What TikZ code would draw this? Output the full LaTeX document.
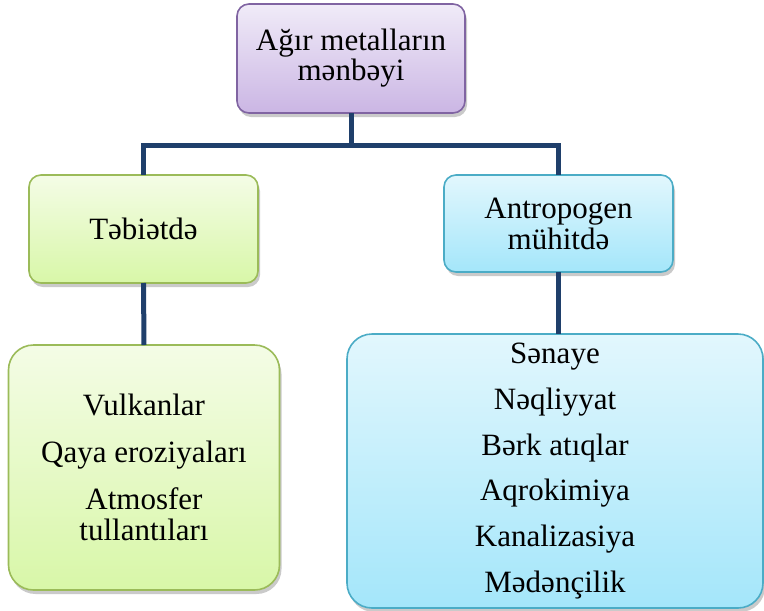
\documentclass[tikz,border=0pt]{standalone}
\usepackage{fontspec}
\setmainfont{Liberation Serif}
\usetikzlibrary{shadows,calc}
\definecolor{conn}{HTML}{1F3F6B}
\definecolor{pborder}{HTML}{8064A2}
\definecolor{ptop}{HTML}{F0EBF8}
\definecolor{pbot}{HTML}{CBB6E4}
\definecolor{gborder}{HTML}{9BBB59}
\definecolor{gtop}{HTML}{F4FCE6}
\definecolor{gbot}{HTML}{D8F7A8}
\definecolor{bborder}{HTML}{4BACC6}
\definecolor{btop}{HTML}{E2F7FD}
\definecolor{bbot}{HTML}{A4E6FA}
\tikzset{
  box/.style={draw, line width=1.6pt, rounded corners=12pt, align=center,
    inner sep=0pt, outer sep=0pt,
    drop shadow={opacity=0.35, shadow xshift=2pt, shadow yshift=-4pt, fill=black!60}},
  purplebox/.style={box, draw=pborder, top color=ptop, bottom color=pbot},
  greenbox/.style={box, draw=gborder, top color=gtop, bottom color=gbot},
  bluebox/.style={box, draw=bborder, top color=btop, bottom color=bbot},
  bigbox/.style={rounded corners=25pt},
  link/.style={draw=conn, line width=5pt}
}
\begin{document}
\begin{tikzpicture}[x=1pt,y=-1pt]
\useasboundingbox (0,0) rectangle (764,611);
\node[purplebox, minimum width=228pt, minimum height=109pt,
  font=\fontsize{31}{30}\selectfont] (top) at (351,58.5) {Ağır metalların\\mənbəyi};
\node[greenbox, minimum width=229pt, minimum height=108pt,
  font=\fontsize{31}{31}\selectfont] (lmid) at (143.5,229) {Təbiətdə};
\node[bluebox, minimum width=229pt, minimum height=97pt,
  font=\fontsize{31}{31}\selectfont] (rmid) at (558.5,223.5) {Antropogen\\mühitdə};
\node[greenbox, bigbox, minimum width=271pt, minimum height=245pt,
  font=\fontsize{31}{31}\selectfont] (lbot) at (144,467.5)
  {Vulkanlar\\[16pt]Qaya eroziyaları\\[16pt]Atmosfer\\tullantıları};
\node[bluebox, bigbox, minimum width=416pt, minimum height=274pt,
  font=\fontsize{31}{45.8}\selectfont] (rbot) at (555,471)
  {Sənaye\\Nəqliyyat\\Bərk atıqlar\\Aqrokimiya\\Kanalizasiya\\Mədənçilik};
\coordinate (hub) at ($(top.south)+(0,32)$);
\draw[link] (top.south) -- (hub) -| (lmid.north);
\draw[link] (hub) -| (rmid.north);
\draw[link] (lmid.south) -- (lbot.north);
\draw[link] (rmid.south) -- (rmid.south |- rbot.north);
\end{tikzpicture}
\end{document}
